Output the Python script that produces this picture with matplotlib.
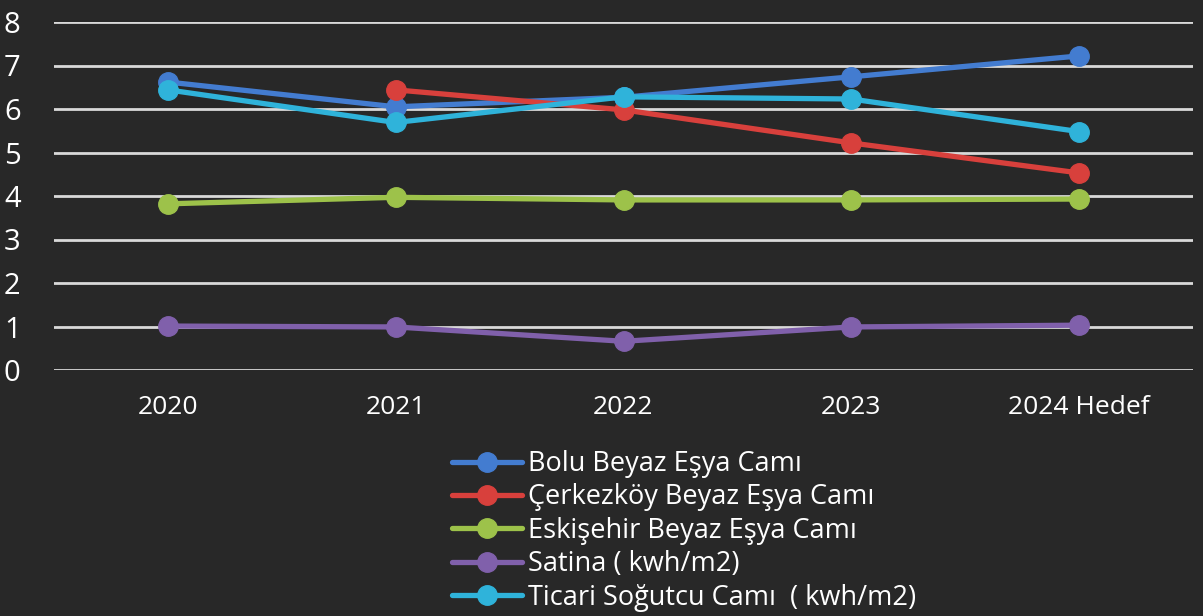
import matplotlib.pyplot as plt
import numpy as np

# years on the x axis
years = ["2020", "2021", "2022", "2023", "2024 Hedef"]

bolu = [6.62, 6.05, 6.27, 6.74, 7.22]
cerkezkoy = [np.nan, 6.44, 5.98, 5.22, 4.53]
eskisehir = [3.82, 3.97, 3.91, 3.91, 3.93]
satina = [1.01, 0.99, 0.66, 0.99, 1.03]
ticari = [6.44, 5.69, 6.28, 6.23, 5.48]

labels = ["Bolu Beyaz Eşya Camı", "Çerkezköy Beyaz Eşya Camı",
          "Eskişehir Beyaz Eşya Camı", "Satina ( kwh/m2)",
          "Ticari Soğutcu Camı  ( kwh/m2)"]
colors = ["#437cd0", "#d8403c", "#9dc24a", "#8060ab", "#2fb3da"]

plt.rcParams['font.family'] = ['Open Sans', 'DejaVu Sans']
bg = "#282828"

fig = plt.figure(figsize=(12.03, 6.16), dpi=100, facecolor=bg)
ax = fig.add_axes([54 / 1203, 1 - 370 / 616, 1139 / 1203, 348 / 616])
ax.set_facecolor(bg)

x = np.arange(len(years))
for vals, lab, c in zip([bolu, cerkezkoy, eskisehir, satina, ticari], labels, colors):
    ax.plot(x, vals, color=c, lw=3.8, marker='o', ms=14, label=lab,
            solid_capstyle='round', zorder=3)

ax.set_xlim(-0.5, 4.5)
ax.set_ylim(0, 8)
ax.set_yticks(range(0, 9))
ax.yaxis.grid(True, color="#d9d9d9", lw=2)
ax.set_axisbelow(True)
for s in ax.spines.values():
    s.set_visible(False)
ax.set_xticks(x)
ax.set_xticklabels(years)
ax.tick_params(axis='both', length=0, colors='white')
ax.tick_params(axis='x', pad=18, labelsize=19)
ax.tick_params(axis='y', pad=24, labelsize=21)

leg = fig.legend(loc='upper left', bbox_to_anchor=(452 / 1203, 1 - 450 / 616), frameon=False,
                 fontsize=19.5, handlelength=2.6, labelspacing=0.2, handletextpad=0.2,
                 borderpad=0, borderaxespad=0)
for t in leg.get_texts():
    t.set_color('white')

fig.savefig("out.png", dpi=100, facecolor=bg)
